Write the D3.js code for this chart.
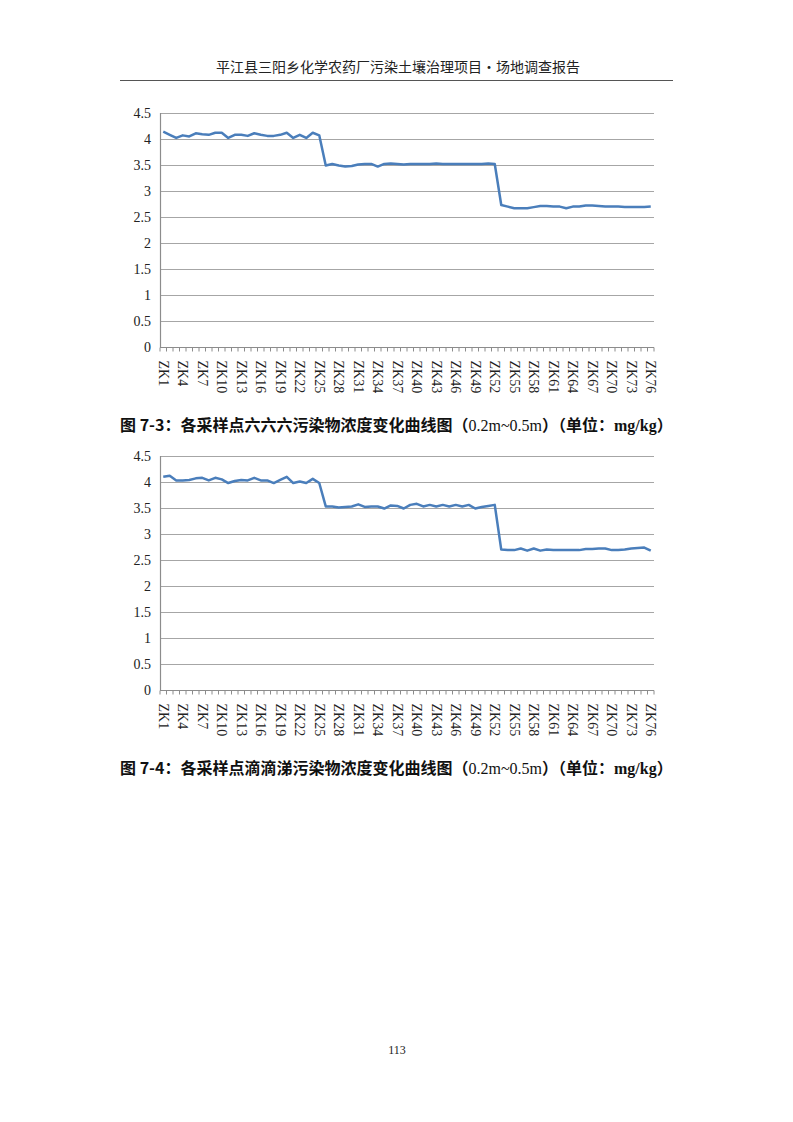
<!DOCTYPE html>
<html>
<head>
<meta charset="utf-8">
<script src="https://cdn.jsdelivr.net/npm/d3@7"></script>
<style>
  html, body { margin: 0; padding: 0; background: #fff; }
  svg { display: block; }
</style>
</head>
<body>
<div id="page"></div>
<script>
// sample points ZK1 .. ZK76
var sites = d3.range(1, 77).map(function (n) { return "ZK" + n; });

// fig 7-3 : 六六六
var hchValues = [
  4.14, 4.08, 4.02, 4.07, 4.05, 4.11, 4.09, 4.08, 4.12, 4.12,
  4.02, 4.08, 4.08, 4.06, 4.11, 4.08, 4.06, 4.06, 4.08, 4.12,
  4.02, 4.08, 4.02, 4.12, 4.07, 3.49, 3.52, 3.49, 3.47, 3.48,
  3.51, 3.52, 3.52, 3.47, 3.52, 3.53, 3.52, 3.51, 3.52, 3.52,
  3.52, 3.52, 3.53, 3.52, 3.52, 3.52, 3.52, 3.52, 3.52, 3.52,
  3.53, 3.52, 2.73, 2.70, 2.67, 2.67, 2.67, 2.69, 2.71, 2.71,
  2.70, 2.70, 2.67, 2.70, 2.70, 2.72, 2.72, 2.71, 2.70, 2.70,
  2.70, 2.69, 2.69, 2.69, 2.69, 2.70
];

// fig 7-4 : 滴滴涕
var ddtValues = [
  4.10, 4.12, 4.03, 4.03, 4.04, 4.07, 4.08, 4.03, 4.08, 4.05,
  3.98, 4.02, 4.04, 4.03, 4.08, 4.03, 4.03, 3.98, 4.04, 4.10,
  3.98, 4.01, 3.98, 4.06, 3.98, 3.53, 3.53, 3.51, 3.52, 3.53,
  3.57, 3.52, 3.53, 3.53, 3.49, 3.55, 3.54, 3.49, 3.56, 3.58,
  3.53, 3.56, 3.53, 3.56, 3.53, 3.56, 3.53, 3.56, 3.49, 3.52,
  3.54, 3.56, 2.70, 2.69, 2.69, 2.72, 2.68, 2.72, 2.68, 2.70,
  2.69, 2.69, 2.69, 2.69, 2.69, 2.71, 2.71, 2.72, 2.72, 2.69,
  2.69, 2.70, 2.72, 2.73, 2.74, 2.68
];

var yTicks = [0, 0.5, 1, 1.5, 2, 2.5, 3, 3.5, 4, 4.5];
var xLabels = sites.filter(function (d, i) { return i % 3 === 0; });

var headerText = "平江县三阳乡化学农药厂污染土壤治理项目•场地调查报告";
var pageNo = "113";

var width = 793, height = 1122;
var lineColor = "#4a7ebb";
var gridColor = "#a6a6a6";
var serif = "'Liberation Serif', 'Times New Roman', serif";
var cjk = "'Noto Sans CJK SC', sans-serif";

var svg = d3.select("#page").append("svg")
  .attr("width", width)
  .attr("height", height);

svg.append("rect").attr("width", width).attr("height", height).attr("fill", "#fff");

// page header
svg.append("text")
  .attr("x", 398).attr("y", 72)
  .attr("text-anchor", "middle")
  .style("font-family", cjk)
  .style("font-size", "14px")
  .attr("fill", "#222")
  .text(headerText);
svg.append("line")
  .attr("x1", 120).attr("x2", 673)
  .attr("y1", 80.5).attr("y2", 80.5)
  .attr("stroke", "#555").attr("stroke-width", 1);

function drawChart(values, top, bottom, figNo, name) {
  var x = d3.scaleBand().domain(sites).range([160, 654]).padding(0);
  var y = d3.scaleLinear().domain([0, 4.5]).range([bottom, top]);
  var g = svg.append("g");

  // gridlines
  g.selectAll(".grid")
    .data(yTicks.filter(function (d) { return d > 0; }))
    .enter().append("line")
    .attr("x1", 160).attr("x2", 654)
    .attr("y1", function (d) { return Math.round(y(d)) + 0.5; })
    .attr("y2", function (d) { return Math.round(y(d)) + 0.5; })
    .attr("stroke", gridColor).attr("stroke-width", 1.2);

  // y axis
  g.append("line")
    .attr("x1", 160.5).attr("x2", 160.5)
    .attr("y1", y(4.5)).attr("y2", y(0))
    .attr("stroke", "#8c8c8c").attr("stroke-width", 1.2);
  g.selectAll(".ylab")
    .data(yTicks)
    .enter().append("text")
    .attr("x", 151)
    .attr("y", function (d) { return y(d); })
    .attr("dy", "0.35em")
    .attr("text-anchor", "end")
    .style("font-family", serif)
    .style("font-size", "14px")
    .attr("fill", "#222")
    .text(function (d) { return d; });

  // x axis with ticks between categories
  var y0 = Math.round(y(0)) + 0.5;
  g.append("line")
    .attr("x1", 160).attr("x2", 654)
    .attr("y1", y0).attr("y2", y0)
    .attr("stroke", "#8c8c8c").attr("stroke-width", 1.2);
  var edges = sites.map(function (s) { return x(s); }).concat([x.range()[1]]);
  g.selectAll(".xtick")
    .data(edges)
    .enter().append("line")
    .attr("x1", function (d) { return d; })
    .attr("x2", function (d) { return d; })
    .attr("y1", y0).attr("y2", y0 + 4)
    .attr("stroke", "#8c8c8c").attr("stroke-width", 1);
  g.selectAll(".xlab")
    .data(xLabels)
    .enter().append("text")
    .attr("transform", function (d) {
      return "translate(" + (x(d) + x.bandwidth() / 2) + "," + (y0 + 13) + ") rotate(90)";
    })
    .attr("dy", "0.33em")
    .style("font-family", serif)
    .style("font-size", "14px")
    .attr("fill", "#222")
    .text(function (d) { return d; });

  // the series line
  var line = d3.line()
    .x(function (d, i) { return x(sites[i]) + x.bandwidth() / 2; })
    .y(function (d) { return y(d); });
  g.append("path")
    .datum(values)
    .attr("d", line)
    .attr("fill", "none")
    .attr("stroke", lineColor)
    .attr("stroke-width", 2.5)
    .attr("stroke-linejoin", "round");

  // caption
  var cap = g.append("text")
    .attr("x", 120).attr("y", y0 + 83)
    .style("font-family", cjk)
    .style("font-size", "16px")
    .style("font-weight", "700")
    .attr("fill", "#111");
  cap.append("tspan").text("图 " + figNo + "：各采样点" + name + "污染物浓度变化曲线图（");
  cap.append("tspan").style("font-family", serif).style("font-weight", "400").text("0.2m~0.5m");
  cap.append("tspan").text("）（单位：");
  cap.append("tspan").style("font-family", serif).text("mg/kg");
  cap.append("tspan").text("）");
}

drawChart(hchValues, 113, 347, "7-3", "六六六");
drawChart(ddtValues, 456, 690, "7-4", "滴滴涕");

svg.append("text")
  .attr("x", 397).attr("y", 1054)
  .attr("text-anchor", "middle")
  .style("font-family", serif)
  .style("font-size", "12px")
  .attr("fill", "#222")
  .text(pageNo);
</script>
</body>
</html>
